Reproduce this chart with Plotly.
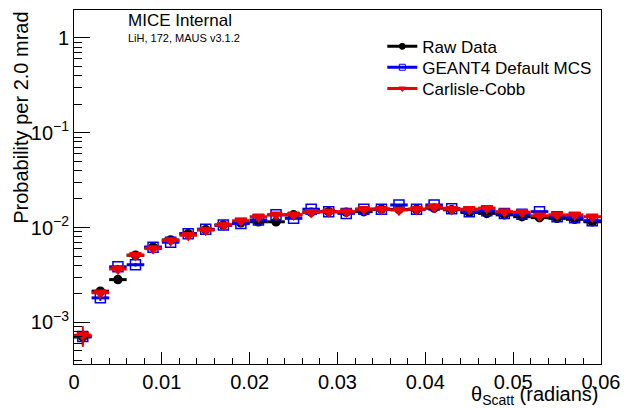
import plotly.graph_objects as go

# bin centres (radians), bin width 0.002
theta = [0.001, 0.003, 0.005, 0.007, 0.009, 0.011, 0.013, 0.015, 0.017, 0.019,
         0.021, 0.023, 0.025, 0.027, 0.029, 0.031, 0.033, 0.035, 0.037, 0.039,
         0.041, 0.043, 0.045, 0.047, 0.049, 0.051, 0.053, 0.055, 0.057, 0.059]
bin_half = [0.001] * len(theta)

raw_data = [7.0e-4, 2.13e-3, 2.82e-3, 5.1e-3, 6.2e-3, 7.4e-3, 8.6e-3, 9.5e-3, 1.06e-2, 1.12e-2,
            1.15e-2, 1.15e-2, 1.36e-2, 1.45e-2, 1.47e-2, 1.45e-2, 1.47e-2, 1.56e-2, 1.55e-2, 1.55e-2,
            1.6e-2, 1.54e-2, 1.44e-2, 1.41e-2, 1.36e-2, 1.30e-2, 1.27e-2, 1.25e-2, 1.22e-2, 1.15e-2]
geant4 = [7.1e-4, 1.81e-3, 3.85e-3, 4.05e-3, 6.2e-3, 7.0e-3, 8.6e-3, 9.6e-3, 1.06e-2, 1.10e-2,
          1.20e-2, 1.36e-2, 1.25e-2, 1.56e-2, 1.47e-2, 1.41e-2, 1.56e-2, 1.56e-2, 1.73e-2, 1.56e-2,
          1.73e-2, 1.58e-2, 1.47e-2, 1.50e-2, 1.41e-2, 1.38e-2, 1.47e-2, 1.30e-2, 1.27e-2, 1.18e-2]
carlisle = [7.3e-4, 2.05e-3, 3.65e-3, 5.1e-3, 6.0e-3, 7.3e-3, 8.3e-3, 9.4e-3, 1.06e-2, 1.18e-2,
            1.30e-2, 1.36e-2, 1.36e-2, 1.45e-2, 1.47e-2, 1.47e-2, 1.56e-2, 1.56e-2, 1.53e-2, 1.56e-2,
            1.64e-2, 1.56e-2, 1.56e-2, 1.60e-2, 1.47e-2, 1.45e-2, 1.33e-2, 1.36e-2, 1.36e-2, 1.30e-2]
raw_err = [1.2e-4, 1.5e-4, 1.6e-4, 2.0e-4, 2.2e-4, 2.4e-4, 2.5e-4, 2.6e-4, 2.8e-4, 2.9e-4,
           3.0e-4, 3.0e-4, 3.2e-4, 3.3e-4, 3.3e-4, 3.3e-4, 3.3e-4, 3.4e-4, 3.4e-4, 3.4e-4,
           3.5e-4, 3.4e-4, 3.3e-4, 3.3e-4, 3.2e-4, 3.1e-4, 3.1e-4, 3.0e-4, 3.0e-4, 2.9e-4]
sim_err = [1.0e-4, 1.3e-4, 1.6e-4, 1.8e-4, 2.2e-4, 2.3e-4, 2.5e-4, 2.6e-4, 2.8e-4, 2.9e-4,
           3.0e-4, 3.1e-4, 3.1e-4, 3.3e-4, 3.3e-4, 3.3e-4, 3.4e-4, 3.4e-4, 3.5e-4, 3.4e-4,
           3.5e-4, 3.4e-4, 3.3e-4, 3.3e-4, 3.2e-4, 3.2e-4, 3.2e-4, 3.1e-4, 3.0e-4, 2.9e-4]
cc_err = [1.8e-4, 1.5e-4, 1.6e-4, 2.0e-4, 2.2e-4, 2.4e-4, 2.5e-4, 2.6e-4, 2.8e-4, 2.9e-4,
          3.0e-4, 3.1e-4, 3.1e-4, 3.3e-4, 3.3e-4, 3.3e-4, 3.4e-4, 3.4e-4, 3.4e-4, 3.4e-4,
          3.5e-4, 3.4e-4, 3.4e-4, 3.4e-4, 3.3e-4, 3.2e-4, 3.1e-4, 3.1e-4, 3.1e-4, 3.0e-4]

series_names = ["Raw Data", "GEANT4 Default MCS", "Carlisle-Cobb"]
y_tick_vals = [1e-3, 1e-2, 1e-1, 1]
y_tick_text = ["10<sup>\u22123</sup>", "10<sup>\u22122</sup>", "10<sup>\u22121</sup>", "1"]
x_tick_vals = [0, 0.01, 0.02, 0.03, 0.04, 0.05, 0.06]
x_tick_text = ["0", "0.01", "0.02", "0.03", "0.04", "0.05", "0.06"]

FONT = "Liberation Sans, Arial, Helvetica, sans-serif"

styles = [
    dict(color="black", symbol="circle", size=8, err=raw_err, y=raw_data, legend="legend", ly=0.896),
    dict(color="#0000ee", symbol="square-open", size=10, err=sim_err, y=geant4, legend="legend2", ly=0.837),
    dict(color="#ee0000", symbol="triangle-down", size=10, err=cc_err, y=carlisle, legend="legend3", ly=0.777),
]

fig = go.Figure()
for name, st in zip(series_names, styles):
    fig.add_trace(go.Scatter(
        x=theta, y=st["y"], mode="markers", showlegend=False,
        marker=dict(color=st["color"], symbol=st["symbol"], size=st["size"],
                    line=dict(color=st["color"], width=1.5)),
        error_x=dict(type="data", array=bin_half, color=st["color"], thickness=3, width=0),
        error_y=dict(type="data", array=st["err"], color=st["color"], thickness=2, width=0),
    ))
for name, st in zip(series_names, styles):
    fig.add_trace(go.Scatter(
        x=[None], y=[None], mode="lines+markers", name=name, legend=st["legend"],
        line=dict(color=st["color"], width=3),
        marker=dict(color=st["color"], symbol=st["symbol"], size=6,
                    line=dict(color=st["color"], width=1)),
    ))

minor_y = []
for dec in [1e-4, 1e-3, 1e-2, 1e-1, 1]:
    for m in range(2, 10):
        minor_y.append(m * dec)

legend_common = dict(x=0.585, xanchor="left", yanchor="middle",
                     font=dict(size=17, family=FONT, color="black"),
                     bgcolor="rgba(255,255,255,0)", itemwidth=30)

fig.update_layout(
    width=629, height=408,
    margin=dict(l=74, r=21, t=9, b=44),
    paper_bgcolor="white", plot_bgcolor="white",
    font=dict(family=FONT, color="black", size=20),
    legend=dict(y=styles[0]["ly"], **legend_common),
    legend2=dict(y=styles[1]["ly"], **legend_common),
    legend3=dict(y=styles[2]["ly"], **legend_common),
    xaxis=dict(range=[0, 0.06], showgrid=False, zeroline=False,
               showline=True, linecolor="black", linewidth=1, mirror=True,
               ticks="inside", ticklen=12, tickcolor="black",
               tickmode="array", tickvals=x_tick_vals, ticktext=x_tick_text,
               tickfont=dict(size=20),
               minor=dict(ticks="inside", ticklen=6, dtick=0.002, tick0=0,
                          tickcolor="black", showgrid=False)),
    yaxis=dict(type="log", range=[-3.44, 0.295], showgrid=False, zeroline=False,
               showline=True, linecolor="black", linewidth=1, mirror=True,
               ticks="inside", ticklen=16, tickcolor="black",
               tickmode="array", tickvals=y_tick_vals, ticktext=y_tick_text,
               tickfont=dict(size=20),
               minor=dict(ticks="inside", ticklen=8, tickmode="array",
                          tickvals=minor_y, tickcolor="black", showgrid=False)),
)

fig.add_annotation(xref="paper", yref="paper", x=-0.101, y=1.0,
                   xanchor="center", yanchor="top", textangle=-90,
                   text="Probability per 2.0 mrad", showarrow=False,
                   font=dict(size=20))
fig.add_annotation(xref="paper", yref="paper", x=1.0, y=-0.047,
                   xanchor="right", yanchor="top",
                   text="\u03b8<sub>Scatt</sub> (radians)", showarrow=False,
                   font=dict(size=20))
fig.add_annotation(xref="paper", yref="paper", x=0.099, y=0.969,
                   xanchor="left", yanchor="middle", text="MICE Internal",
                   showarrow=False, font=dict(size=17))
fig.add_annotation(xref="paper", yref="paper", x=0.099, y=0.921,
                   xanchor="left", yanchor="middle", text="LiH, 172, MAUS v3.1.2",
                   showarrow=False, font=dict(size=11))

# remove the default 8px page margin so the figure fills the window exactly
fig.write_html("out.html",
               config={"displayModeBar": False, "staticPlot": True},
               post_script="document.body.style.margin='0';document.body.style.overflow='hidden';")
